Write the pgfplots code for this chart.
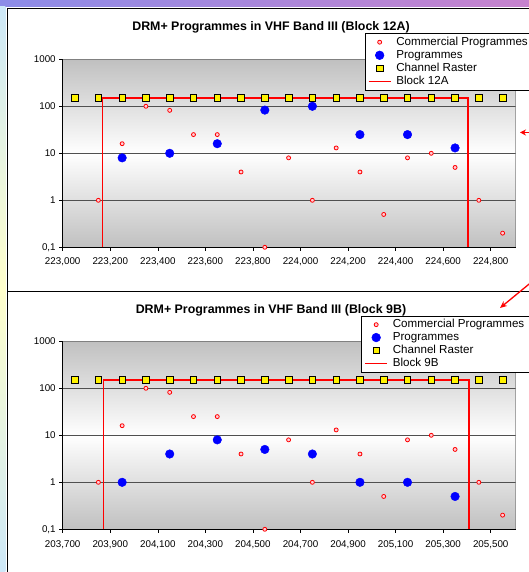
\documentclass[border=0pt]{standalone}
\usepackage{fontspec}
\setmainfont{Liberation Sans}
\usepackage{pgfplots}
\usepackage{pgfplotstable}
\pgfplotsset{compat=1.18}
\usetikzlibrary{arrows.meta}

\definecolor{plotgray}{RGB}{192,192,192}
\definecolor{gridgray}{RGB}{80,80,80}
\definecolor{bordergray}{RGB}{128,128,128}
\definecolor{commfill}{RGB}{255,205,215}
\definecolor{barleft}{RGB}{140,140,232}
\definecolor{barright}{RGB}{200,130,205}
\definecolor{stripblue}{RGB}{205,232,248}
\definecolor{stripyellow}{RGB}{255,255,204}

\pgfplotstableread{
x y
223150 1
223250 16
223350 100
223450 82
223550 25
223650 25
223750 4
223850 0.1
223950 8
224050 1
224150 13
224250 4
224350 0.5
224450 8
224550 10
224650 5
224750 1
224850 0.2
}\commA
\pgfplotstableread{
x y
223250 8
223450 10
223650 16
223850 83
224050 100
224250 25
224450 25
224650 13
}\progA
\pgfplotstableread{
x y
223050 150
223150 150
223250 150
223350 150
223450 150
223550 150
223650 150
223750 150
223850 150
223950 150
224050 150
224150 150
224250 150
224350 150
224450 150
224550 150
224650 150
224750 150
224850 150
}\rastA
\pgfplotstableread{
x y
223168 0.1
223168 150
224704 150
224704 0.1
}\blockA
\pgfplotstableread{
x y
203850 1
203950 16
204050 100
204150 82
204250 25
204350 25
204450 4
204550 0.1
204650 8
204750 1
204850 13
204950 4
205050 0.5
205150 8
205250 10
205350 5
205450 1
205550 0.2
}\commB
\pgfplotstableread{
x y
203950 1
204150 4
204350 8
204550 5
204750 4
204950 1
205150 1
205350 0.5
}\progB
\pgfplotstableread{
x y
203750 150
203850 150
203950 150
204050 150
204150 150
204250 150
204350 150
204450 150
204550 150
204650 150
204750 150
204850 150
204950 150
205050 150
205150 150
205250 150
205350 150
205450 150
205550 150
}\rastB
\pgfplotstableread{
x y
203872 0.1
203872 150
205408 150
205408 0.1
}\blockB

\begin{document}
\begin{tikzpicture}
\useasboundingbox (0pt,0pt) rectangle (528pt,572pt);
% frame decoration
\shade[left color=barleft, right color=barright] (0pt,565.3pt) rectangle (540pt,572pt);
\shade[top color=stripblue, bottom color=stripblue, middle color=stripyellow] (0pt,0pt) rectangle (5.3pt,565.3pt);
\draw[black, line width=0.8pt] (7.3pt,0pt) -- (7.3pt,563.7pt) -- (540pt,563.7pt);
\draw[black, line width=0.8pt] (7.3pt,281pt) -- (540pt,281pt);

\begin{axis}[
  scale only axis, width=453pt, height=188pt,
  at={(62.7pt,324.7pt)}, anchor=south west,
  ymode=log, ymin=0.1, ymax=1000,
  ytick={0.1,1,10,100,1000}, yticklabels={{0,1},1,10,100,1000},
  yminorticks=false, scaled x ticks=false,
  axis x line*=bottom, axis y line*=left,
  axis line style={-, black, line width=0.7pt},
  tick pos=left, tick align=outside, major tick length=3.5pt,
  tick style={black, line width=0.6pt},
  ymajorgrids, major grid style={gridgray, line width=0.8pt},
  axis background/.style={top color=plotgray, bottom color=plotgray, middle color=white},
  ticklabel style={font=\fontsize{9.8}{11}\selectfont},
  xticklabel style={yshift=-3.5pt},
  title style={font=\bfseries\fontsize{12.4}{14}\selectfont, at={(axis description cs:0.4598,1.14)}, anchor=center},
  legend cell align=left,
  legend style={draw=black, fill=white, line width=0.6pt, font=\fontsize{11.6}{13}\selectfont, anchor=north west, row sep=0pt, column sep=3pt, inner xsep=3pt, inner ysep=2pt, nodes={inner ysep=1pt, text height=8.6pt, text depth=2.5pt}, at={(axis description cs:0.6667,1.138)}},
  legend image code/.code={\draw[mark repeat=2,mark phase=2,#1] plot coordinates {(0pt,0pt)(11pt,0pt)(22pt,0pt)};},
  xmin=223000, xmax=224905,
  xtick={223000,223200,223400,223600,223800,224000,224200,224400,224600,224800},
  xticklabels={{223,000},{223,200},{223,400},{223,600},{223,800},{224,000},{224,200},{224,400},{224,600},{224,800}},
  title={DRM+ Programmes in VHF Band III (Block 12A)}]
\addplot[only marks, mark=*, mark size=2pt, red, mark options={draw=red, fill=commfill, line width=0.8pt}] table {\commA};
\addlegendentry{Commercial Programmes}
\addplot[only marks, mark=*, mark size=4.3pt, blue, mark options={draw=blue, fill=blue}] table {\progA};
\addlegendentry{Programmes}
\addplot[only marks, mark=square*, mark size=3.3pt, black, mark options={draw=black, fill=yellow, line width=0.7pt}] table {\rastA};
\addlegendentry{Channel Raster}
\addplot[red, draw=red, line width=1.3pt, mark=none, legend image code/.code={\draw[red, line width=1.3pt] (0pt,0pt) -- (22pt,0pt);}] table {\blockA};
\addlegendentry{Block 12A}
\addplot[only marks, mark=square*, mark size=3.3pt, black, mark options={draw=black, fill=yellow, line width=0.7pt}, forget plot] table {\rastA};
\draw[bordergray, line width=0.7pt] (rel axis cs:0,1) -- (rel axis cs:1,1) -- (rel axis cs:1,0);
\end{axis}

\begin{axis}[
  scale only axis, width=453pt, height=188pt,
  at={(62.7pt,42.7pt)}, anchor=south west,
  ymode=log, ymin=0.1, ymax=1000,
  ytick={0.1,1,10,100,1000}, yticklabels={{0,1},1,10,100,1000},
  yminorticks=false, scaled x ticks=false,
  axis x line*=bottom, axis y line*=left,
  axis line style={-, black, line width=0.7pt},
  tick pos=left, tick align=outside, major tick length=3.5pt,
  tick style={black, line width=0.6pt},
  ymajorgrids, major grid style={gridgray, line width=0.8pt},
  axis background/.style={top color=plotgray, bottom color=plotgray, middle color=white},
  ticklabel style={font=\fontsize{9.8}{11}\selectfont},
  xticklabel style={yshift=-4pt},
  title style={font=\bfseries\fontsize{12.4}{14}\selectfont, at={(axis description cs:0.4598,1.135)}, anchor=center},
  legend cell align=left,
  legend style={draw=black, fill=white, line width=0.6pt, font=\fontsize{11.6}{13}\selectfont, anchor=north west, row sep=0pt, column sep=3pt, inner xsep=3pt, inner ysep=2pt, nodes={inner ysep=1pt, text height=8.4pt, text depth=2.5pt}, at={(axis description cs:0.659,1.135)}},
  legend image code/.code={\draw[mark repeat=2,mark phase=2,#1] plot coordinates {(0pt,0pt)(11pt,0pt)(22pt,0pt)};},
  xmin=203700, xmax=205605,
  xtick={203700,203900,204100,204300,204500,204700,204900,205100,205300,205500},
  xticklabels={{203,700},{203,900},{204,100},{204,300},{204,500},{204,700},{204,900},{205,100},{205,300},{205,500}},
  title={DRM+ Programmes in VHF Band III (Block 9B)}]
\addplot[only marks, mark=*, mark size=2pt, red, mark options={draw=red, fill=commfill, line width=0.8pt}] table {\commB};
\addlegendentry{Commercial Programmes}
\addplot[only marks, mark=*, mark size=4.3pt, blue, mark options={draw=blue, fill=blue}] table {\progB};
\addlegendentry{Programmes}
\addplot[only marks, mark=square*, mark size=3.3pt, black, mark options={draw=black, fill=yellow, line width=0.7pt}] table {\rastB};
\addlegendentry{Channel Raster}
\addplot[red, draw=red, line width=1.3pt, mark=none, legend image code/.code={\draw[red, line width=1.3pt] (0pt,0pt) -- (22pt,0pt);}] table {\blockB};
\addlegendentry{Block 9B}
\addplot[only marks, mark=square*, mark size=3.3pt, black, mark options={draw=black, fill=yellow, line width=0.7pt}, forget plot] table {\rastB};
\draw[bordergray, line width=0.7pt] (rel axis cs:0,1) -- (rel axis cs:1,1) -- (rel axis cs:1,0);
\end{axis}

% pointer arrows
\draw[red, line width=1.3pt, -{Stealth[length=6pt,width=6pt]}] (536pt,439.5pt) -- (520pt,439.5pt);
\draw[red, line width=1.3pt, -{Stealth[length=7pt,width=6pt]}] (531pt,289.5pt) -- (500pt,264pt);
\end{tikzpicture}
\end{document}
